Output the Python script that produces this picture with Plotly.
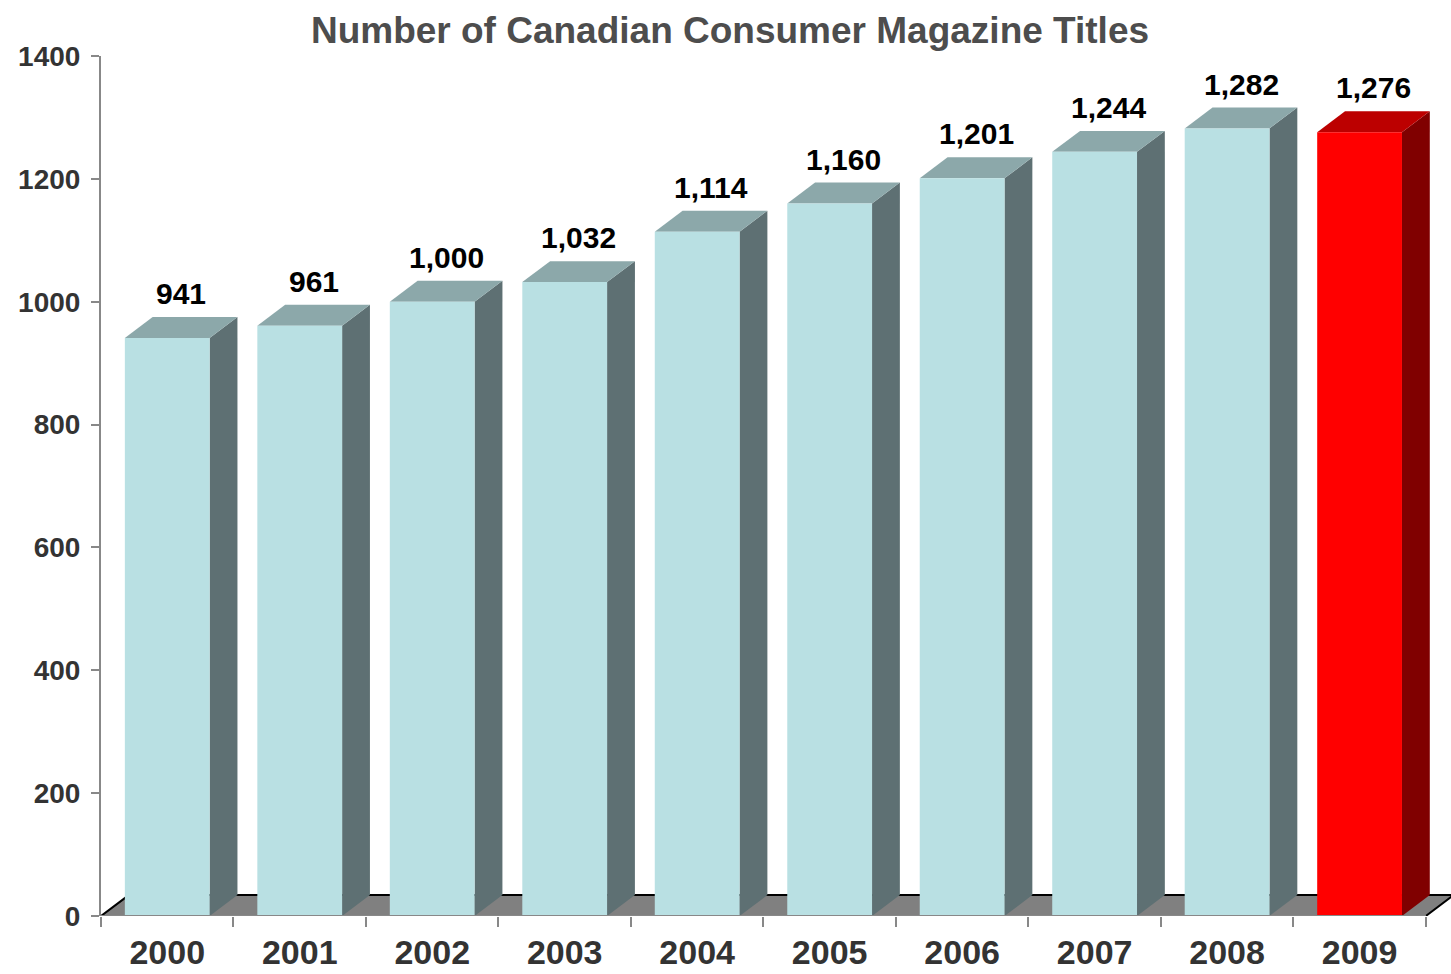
import plotly.graph_objects as go

# data
years = ["2000", "2001", "2002", "2003", "2004", "2005", "2006", "2007", "2008", "2009"]
titles = [941, 961, 1000, 1032, 1114, 1160, 1201, 1244, 1282, 1276]
highlight = ["2009"]

# colours for the fake 3D boxes (front, top, side)
normal_faces = ("#B9E0E3", "#8CA8AA", "#5E7073")
red_faces = ("#FF0000", "#BC0000", "#800000")

# depth of the 3D effect in axis units
dx = 0.21
dy = 34.0
half_w = 0.32
xmax = 10.19

fig = go.Figure()


def poly(xs, ys, color, line_color=None, width=0):
    fig.add_trace(go.Scatter(
        x=xs + [xs[0]], y=ys + [ys[0]], mode="lines", fill="toself",
        fillcolor=color, line=dict(color=line_color or color, width=width),
        hoverinfo="skip", showlegend=False))


# floor
n = len(years)
poly([0, n, n + dx, dx], [0, 0, dy, dy], "#808080")
fig.add_trace(go.Scatter(x=[0, dx, n + dx, n], y=[0, dy, dy, 0], mode="lines",
                         line=dict(color="black", width=2), hoverinfo="skip", showlegend=False))

# bars
for i, (yr, v) in enumerate(zip(years, titles)):
    front, top, side = red_faces if yr in highlight else normal_faces
    x0 = i + 0.5 - half_w
    x1 = i + 0.5 + half_w
    poly([x1, x1 + dx, x1 + dx, x1], [0, dy, v + dy, v], side)
    poly([x0, x1, x1 + dx, x0 + dx], [v, v, v + dy, v + dy], top)
    poly([x0, x1, x1, x0], [0, 0, v, v], front)
    fig.add_annotation(x=i + 0.5 + dx / 2, y=v + dy, text="{:,}".format(v),
                       showarrow=False, yanchor="bottom", yshift=5,
                       font=dict(size=30, color="black", family="Arial, Liberation Sans", weight="bold"))

# x axis line at the front of the floor
fig.add_trace(go.Scatter(x=[0, n], y=[0, 0], mode="lines", line=dict(color="#888888", width=2),
                         hoverinfo="skip", showlegend=False))

fig.update_layout(
    width=1451, height=974,
    margin=dict(l=101, r=0, t=56, b=58),
    plot_bgcolor="white", paper_bgcolor="white",
    title=dict(text="<b>Number of Canadian Consumer Magazine Titles</b>", x=730 / 1451, xanchor="center",
               y=1 - 30 / 974, yanchor="middle",
               font=dict(size=37, color="#4D4D4D", family="Arial, Liberation Sans")),
    xaxis=dict(range=[0, xmax], showgrid=False, zeroline=False, showline=False, automargin=False,
               tickvals=[i + 0.5 for i in range(n)], ticktext=years, ticks="",
               ticklabelstandoff=13,
               tickfont=dict(size=34, color="#333333", family="Arial, Liberation Sans", weight="bold"),
               minor=dict(tickvals=list(range(n + 1)), ticks="outside", ticklen=10, tickwidth=2,
                          tickcolor="#888888")),
    yaxis=dict(range=[0, 1400], showgrid=False, zeroline=False, showline=True, linecolor="#888888",
               linewidth=2, ticks="outside", ticklen=8, tickwidth=2, tickcolor="#888888",
               automargin=False,
               tickvals=[0, 200, 400, 600, 800, 1000, 1200, 1400], ticklabelstandoff=5,
               tickfont=dict(size=28, color="#333333", family="Arial, Liberation Sans", weight="bold")),
)

fig.write_html("out.html", config={"displayModeBar": False},
               post_script="document.body.style.margin='0';")
